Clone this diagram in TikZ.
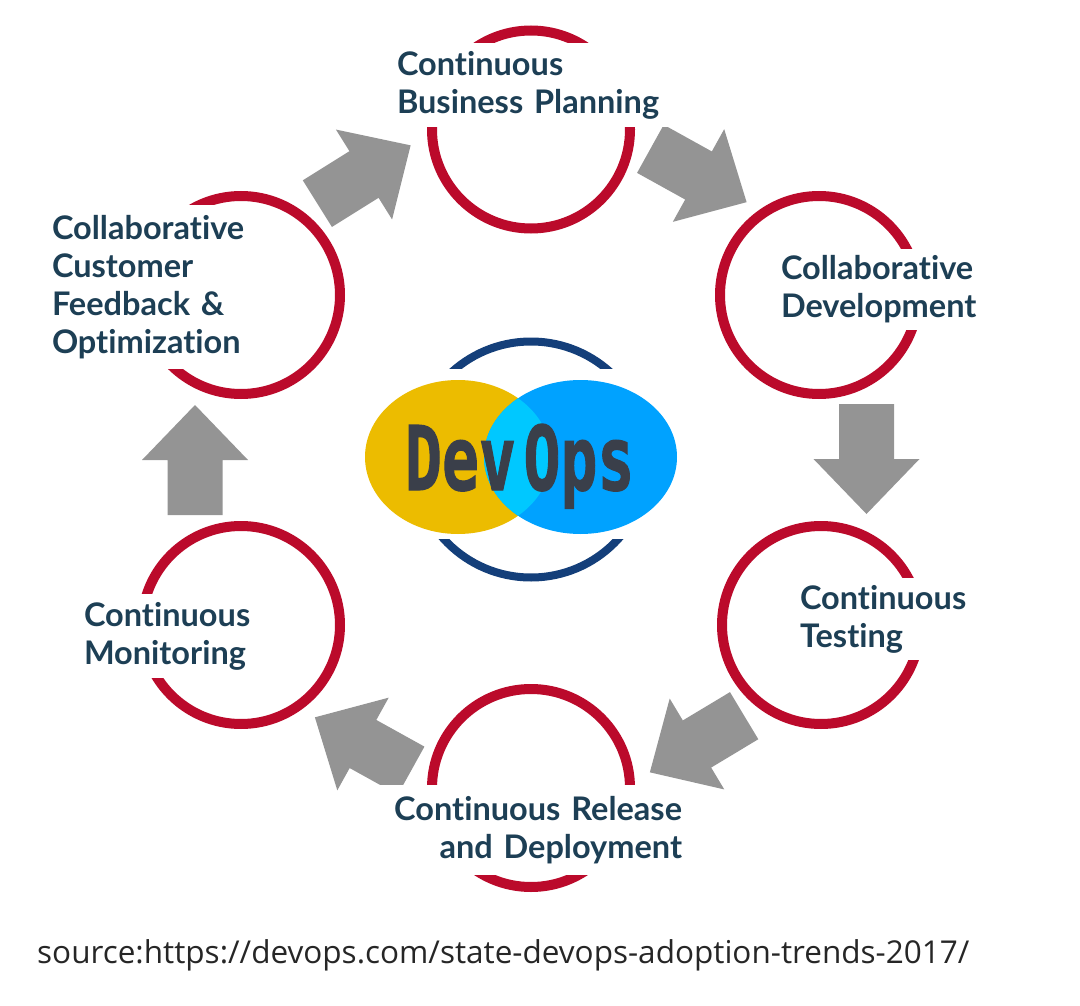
\documentclass[tikz,border=0pt]{standalone}
\usepackage{fontspec}
\newfontfamily\labelfont[Ligatures=NoCommon,WordSpace=0.8]{Lato}
\newfontfamily\sourcefont{Open Sans}
\newfontfamily\logofont[BoldFeatures={FakeBold=1.5}]{DejaVu Sans Mono}
\definecolor{ringred}{HTML}{BB0A2B}
\definecolor{arrowgray}{HTML}{949494}
\definecolor{labelblue}{HTML}{1D3F55}
\definecolor{logonavy}{HTML}{143F7A}
\definecolor{logogold}{HTML}{ECBC00}
\definecolor{logoblue}{HTML}{00A2FF}
\definecolor{logolens}{HTML}{00C8FF}
\definecolor{logotext}{HTML}{3A3F4A}
\begin{document}
\begin{tikzpicture}[x=1pt,y=-1pt,
    ring/.style={draw=ringred,line width=10pt},
    labelbox/.style={fill=white,inner xsep=12pt,inner ysep=0pt,text=labelblue,
      font=\labelfont\bfseries\fontsize{32.5}{38}\selectfont},
    logoword/.style={text=logotext,inner sep=0pt,anchor=base,xscale=0.69,
      font=\logofont\bfseries\fontsize{89}{89}\selectfont}
  ]
    \newcommand{\grayArrow}[3]{
        \fill[arrowgray,shift={(#1,#2)},rotate=#3] (-55,-27.5) -- (0,-27.5) -- (0,-53)
            -- (55,0) -- (0,53) -- (0,27.5) -- (-55,27.5) -- cycle;
    }
  \useasboundingbox (0,0) rectangle (1080,1006);
  % rings
  \draw[ring] (531,129.5) circle (99pt);
  \draw[ring] (819,295) circle (99pt);
  \draw[ring] (821,625) circle (99pt);
  \draw[ring] (531,788) circle (99pt);
  \draw[ring] (241,625) circle (99pt);
  \draw[ring] (241,295) circle (99pt);
  % block arrows
  \grayArrow{698.5}{175.5}{-29}
  \grayArrow{866.5}{459}{-90}
  \grayArrow{697}{744}{211}
  \grayArrow{363}{744}{151}
  \grayArrow{195}{460}{90}
  \grayArrow{364}{174.5}{32}
  % labels
  \node[labelbox,text width=270pt,minimum height=84pt,align=left] (planning) at (532,85)
    {Continuous\\Business Planning};
  \node[labelbox,text width=200pt,minimum height=81pt,align=left] (development) at (881,289.5)
    {Collaborative\\Development};
  \node[labelbox,text width=170pt,minimum height=82pt,align=left] (testing) at (885,619)
    {Continuous\\Testing};
  \node[labelbox,text width=290pt,minimum height=90pt,align=right] (deployment) at (537,830)
    {Continuous Release\\and Deployment};
  \node[labelbox,text width=170pt,minimum height=84pt,align=left] (monitoring) at (169,636)
    {Continuous\\Monitoring};
  \node[labelbox,text width=200pt,minimum height=164pt,align=left] (feedback) at (152,287)
    {Collaborative\\Customer\\Feedback \&\\Optimization};
  % logo
  \draw[logonavy,line width=8pt] (531,459.5) circle (118pt);
  \node[fill=white,minimum width=280pt,minimum height=170pt,inner sep=0pt] (logoback) at (531,454) {};
  \fill[logogold] (458,457) ellipse (93pt and 77pt);
  \fill[logoblue] (580.5,457) ellipse (96.5pt and 77pt);
  \begin{scope}
    \clip (458,457) ellipse (93pt and 77pt);
    \fill[logolens] (580.5,457) ellipse (96.5pt and 77pt);
  \end{scope}
  \node[logoword] (dev) at (460.5,490) {Dev};
  \node[logoword] (ops) at (579,490) {Ops};
  % source line
  \node[anchor=base west,inner sep=0pt,text=black!85,font=\sourcefont\fontsize{31.5}{36}\selectfont] (source) at (37,963)
    {source:https://devops.com/state-devops-adoption-trends-2017/};
\end{tikzpicture}
\end{document}
